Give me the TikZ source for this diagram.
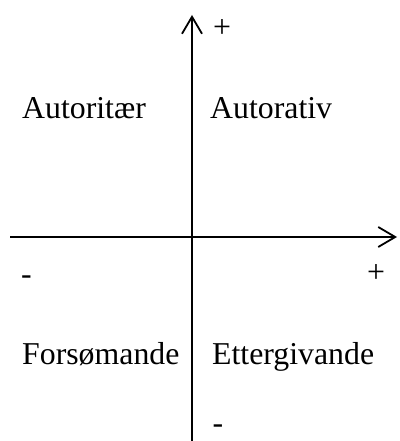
\documentclass[tikz,border=0pt]{standalone}
\usepackage{fontspec}
\setmainfont{Liberation Serif}
\usetikzlibrary{arrows.meta}
\begin{document}
\begin{tikzpicture}[x=1pt,y=1pt,
  axis/.style={line width=1.8pt,-{Straight Barb[length=17pt,width=20pt,line width=1.8pt]}},
  lbl/.style={anchor=base west,inner sep=0pt,font=\fontsize{31.8}{38}\selectfont},
  sign/.style={anchor=base,inner sep=0pt,font=\fontsize{31.8}{38}\selectfont}]
\useasboundingbox (0,0) rectangle (399,441);
\coordinate (vbot) at (192,-2);
\coordinate (vtop) at (192,426);
\coordinate (hleft) at (10,204);
\coordinate (hright) at (397,204);
\draw[axis] (vbot) -- (vtop);
\draw[axis] (hleft) -- (hright);
\node[lbl] (a1) at (22,322) {Autoritær};
\node[lbl] (a2) at (210,322) {Autorativ};
\node[lbl] (a3) at (22,76) {Forsømande};
\node[lbl] (a4) at (212,76) {Ettergivande};
\node[sign] (p1) at (222,403) {+};
\node[sign] (p2) at (376,158) {+};
\node[sign] (m1) at (26.5,156) {-};
\node[sign] (m2) at (218,7.5) {-};
\end{tikzpicture}
\end{document}
